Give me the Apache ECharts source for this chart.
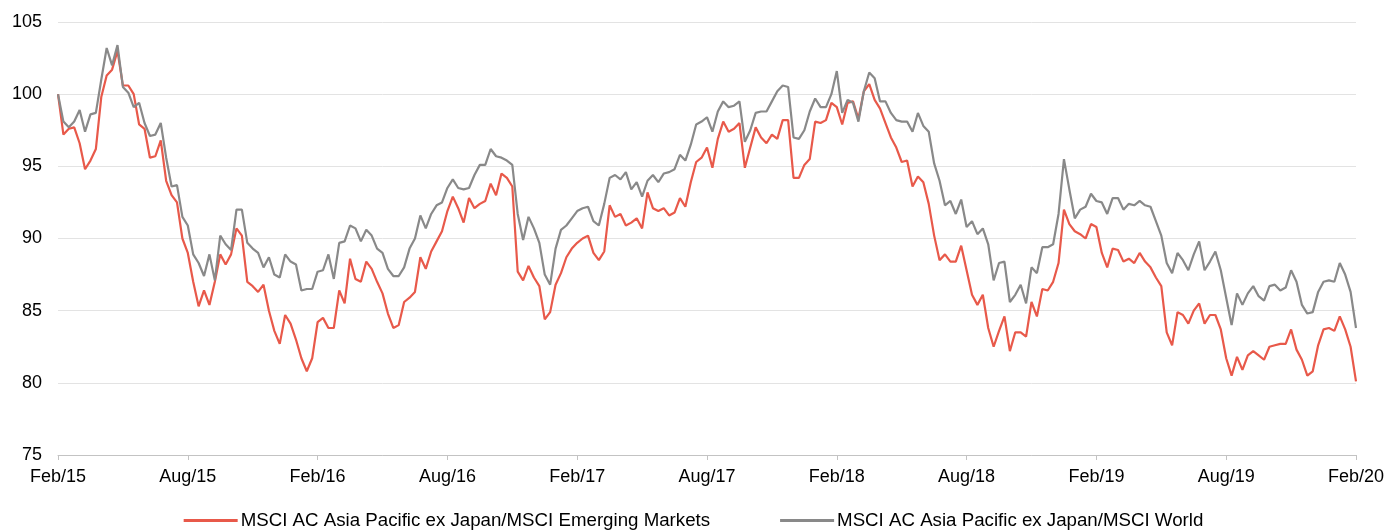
<!DOCTYPE html>
<html>
<head>
<meta charset="utf-8">
<title>MSCI AC Asia Pacific ex Japan relative</title>
<script src="https://cdn.jsdelivr.net/npm/echarts@6/dist/echarts.min.js"></script>
<style>
  html, body { margin: 0; padding: 0; background: #fff; }
  #chart { width: 1387px; height: 530px; }
</style>
</head>
<body>
<div id="chart"></div>
<script>
// one sample every quarter of a month, Feb 2015 -> Feb 2020 (rebased to 100)
const STEP_MONTHS = 0.25;

const tickLabels = ["Feb/15", "Aug/15", "Feb/16", "Aug/16", "Feb/17", "Aug/17",
  "Feb/18", "Aug/18", "Feb/19", "Aug/19", "Feb/20"];

const seriesNames = ["MSCI AC Asia Pacific ex Japan/MSCI Emerging Markets",
  "MSCI AC Asia Pacific ex Japan/MSCI World"];

// vs MSCI Emerging Markets
const emRatio = [
  100.0, 97.2, 97.6, 97.7, 96.6, 94.8, 95.4, 96.2, 99.8, 101.3,
  101.7, 103.0, 100.6, 100.6, 100.0, 97.9, 97.6, 95.6, 95.7, 96.8,
  94.0, 93.0, 92.5, 90.0, 89.0, 87.0, 85.3, 86.4, 85.4, 87.0,
  88.9, 88.2, 88.9, 90.7, 90.2, 87.0, 86.7, 86.3, 86.8, 85.0,
  83.6, 82.7,
  84.7, 84.1, 83.0, 81.7, 80.8, 81.7, 84.2, 84.5, 83.8, 83.8,
  86.4, 85.5, 88.6, 87.2, 87.0, 88.4, 87.9, 87.0, 86.2, 84.8,
  83.8, 84.0, 85.6, 85.9, 86.3, 88.7, 87.9, 89.1, 89.8, 90.5,
  91.9, 92.9, 92.1, 91.1, 92.8, 92.1, 92.4, 92.6, 93.8, 93.0,
  94.5, 94.2, 93.6, 87.7, 87.1, 88.1, 87.3, 86.7, 84.4, 84.9,
  86.8, 87.6, 88.7, 89.3, 89.7, 90.0, 90.2, 89.0, 88.5, 89.1,
  92.3, 91.5, 91.7, 90.9, 91.1, 91.4, 90.7, 93.2, 92.1, 91.9,
  92.1, 91.6, 91.8, 92.8, 92.2, 93.9, 95.3, 95.6, 96.3, 94.9,
  96.9,
  98.1, 97.4, 97.6, 98.0, 94.9, 96.3, 97.7, 97.0, 96.6, 97.2,
  96.9, 98.2, 98.2, 94.2, 94.2, 95.1, 95.5, 98.1, 98.0, 98.2,
  99.4, 99.1, 97.9, 99.4, 99.5, 98.3, 100.2, 100.7, 99.6, 99.0,
  98.0, 97.0, 96.3, 95.3, 95.4, 93.6, 94.3, 93.9, 92.4, 90.2,
  88.5, 88.9, 88.4, 88.4, 89.5, 87.8, 86.1, 85.4, 86.1, 83.8,
  82.5, 83.6, 84.6, 82.2, 83.5, 83.5, 83.2, 85.6, 84.6, 86.5,
  86.4, 87.0, 88.3, 92.0, 91.0, 90.5, 90.3, 90.0, 91.0, 90.8,
  89.0, 88.0, 89.3, 89.2, 88.4, 88.6, 88.3, 89.0, 88.4, 88.0,
  87.3,
  86.7, 83.5, 82.6, 84.9, 84.7, 84.1, 85.0, 85.5, 84.1, 84.7,
  84.7, 83.7, 81.7, 80.5, 81.8, 80.9, 81.9, 82.2, 81.9, 81.6,
  82.5, 82.6, 82.7, 82.7, 83.7, 82.3, 81.6, 80.5, 80.8, 82.6,
  83.7, 83.8, 83.6, 84.6, 83.7, 82.5, 80.1
];

// vs MSCI World
const worldRatio = [
  100.0, 98.1, 97.7, 98.1, 98.9, 97.4, 98.6, 98.7, 101.0, 103.2,
  102.0, 103.4, 100.5, 100.1, 99.1, 99.4, 98.0, 97.1, 97.2, 98.0,
  95.6, 93.6, 93.7, 91.5, 90.9, 88.9, 88.3, 87.4, 88.9, 87.1,
  90.2, 89.6, 89.2, 92.0, 92.0, 89.7, 89.3, 89.0, 88.0, 88.7,
  87.5, 87.3,
  88.9, 88.4, 88.2, 86.4, 86.5, 86.5, 87.7, 87.8, 88.9, 87.2,
  89.7, 89.8, 90.9, 90.7, 89.8, 90.6, 90.2, 89.3, 89.0, 87.9,
  87.4, 87.4, 88.0, 89.3, 90.0, 91.6, 90.7, 91.7, 92.3, 92.5,
  93.5, 94.1, 93.5, 93.4, 93.5, 94.4, 95.1, 95.1, 96.2, 95.7,
  95.6, 95.4, 95.1, 91.7, 89.9, 91.5, 90.7, 89.7, 87.5, 86.8,
  89.3, 90.6, 90.9, 91.4, 91.9, 92.1, 92.2, 91.2, 90.9, 92.4,
  94.2, 94.4, 94.1, 94.6, 93.4, 93.9, 92.9, 94.0, 94.4, 93.9,
  94.5, 94.6, 94.8, 95.8, 95.4, 96.5, 97.9, 98.1, 98.4, 97.4,
  98.8,
  99.5, 99.1, 99.2, 99.5, 96.7, 97.5, 98.7, 98.8, 98.8, 99.5,
  100.2, 100.6, 100.5, 97.0, 96.9, 97.5, 98.8, 99.7, 99.1, 99.1,
  100.0, 101.6, 98.7, 99.6, 99.4, 98.1, 100.2, 101.5, 101.1, 99.5,
  99.5, 98.7, 98.2, 98.1, 98.1, 97.4, 98.7, 97.8, 97.4, 95.2,
  94.0, 92.3, 92.6, 91.7, 92.7, 90.8, 91.2, 90.3, 90.7, 89.6,
  87.1, 88.3, 88.4, 85.6, 86.1, 86.8, 85.5, 88.0, 87.6, 89.4,
  89.4, 89.6, 91.7, 95.5, 93.4, 91.4, 92.0, 92.2, 93.1, 92.6,
  92.5, 91.7, 92.8, 92.8, 92.0, 92.4, 92.3, 92.6, 92.3, 92.2,
  91.2,
  90.2, 88.3, 87.6, 89.0, 88.5, 87.8, 88.9, 89.8, 87.8, 88.4,
  89.1, 87.8, 85.9, 84.0, 86.2, 85.4, 86.2, 86.7, 86.0, 85.7,
  86.7, 86.8, 86.4, 86.6, 87.8, 87.0, 85.4, 84.8, 84.9, 86.3,
  87.0, 87.1, 87.0, 88.3, 87.5, 86.3, 83.8
];

const FONT = "Liberation Sans, Arial, sans-serif";

function toPoints(values) {
  return values.map((v, i) => [i * STEP_MONTHS, v]);
}

const chart = echarts.init(document.getElementById("chart"));

chart.setOption({
  animation: false,
  backgroundColor: "#fff",
  textStyle: { fontFamily: FONT },
  grid: { left: 58, right: 31, top: 22, bottom: 75, outerBoundsMode: "none" },
  legend: {
    top: 511,
    left: "center",
    padding: 0,
    icon: "rect",
    itemWidth: 54,
    itemHeight: 3,
    itemGap: 70,
    textStyle: { fontSize: 18.7, color: "#000", fontFamily: FONT, padding: [0, 0, 0, -2] },
    data: seriesNames
  },
  xAxis: {
    type: "value",
    min: 0,
    max: 60,
    interval: 6,
    splitLine: { show: false },
    axisLine: { lineStyle: { color: "#c3c3c3", width: 1 } },
    axisTick: { show: true, length: 5, lineStyle: { color: "#c3c3c3" } },
    axisLabel: {
      fontSize: 18,
      color: "#000",
      margin: 13,
      fontFamily: FONT,
      formatter: (v) => tickLabels[Math.round(v / 6)] || ""
    }
  },
  yAxis: {
    type: "value",
    min: 75,
    max: 105,
    interval: 5,
    axisLine: { show: false },
    axisTick: { show: false },
    splitLine: { lineStyle: { color: "#e3e3e3", width: 1 } },
    axisLabel: { fontSize: 18, color: "#000", margin: 16, fontFamily: FONT }
  },
  series: [
    {
      name: seriesNames[0],
      type: "line",
      data: toPoints(emRatio),
      showSymbol: false,
      lineStyle: { color: "#e8594a", width: 2.2 },
      itemStyle: { color: "#e8594a" }
    },
    {
      name: seriesNames[1],
      type: "line",
      data: toPoints(worldRatio),
      showSymbol: false,
      lineStyle: { color: "#898989", width: 2.2 },
      itemStyle: { color: "#898989" }
    }
  ]
});
</script>
</body>
</html>
